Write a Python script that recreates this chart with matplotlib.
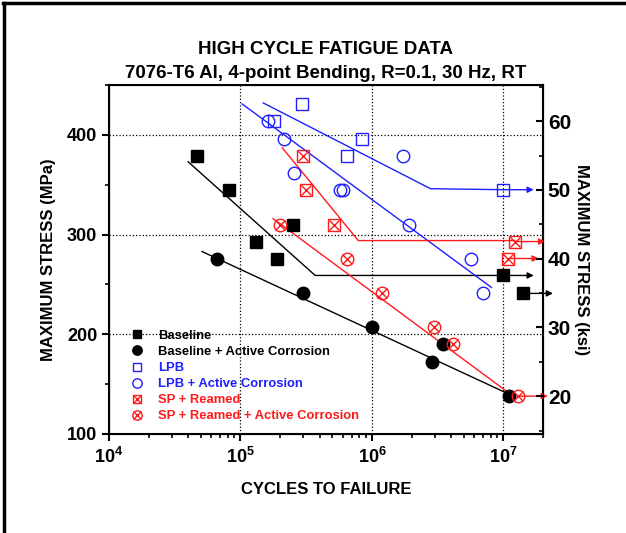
import matplotlib
matplotlib.use('Agg')
import matplotlib.pyplot as plt
from matplotlib.lines import Line2D
from matplotlib.ticker import FixedLocator, MultipleLocator, LogLocator, NullFormatter

plt.rcParams['font.family'] = 'Liberation Sans'
plt.rcParams['font.weight'] = 'bold'
plt.rcParams['mathtext.fontset'] = 'custom'
plt.rcParams['mathtext.rm'] = 'Liberation Sans:bold'
plt.rcParams['mathtext.default'] = 'rm'

# ---- data (cycles, MPa) ----
base_n = [4.68e4, 8.2e4, 1.32e5, 1.90e5, 2.52e5]
base_s = [379, 345, 293, 276, 310]
base_run_n = [1.0e7, 1.40e7]
base_run_s = [259, 241]

basec_n = [6.65e4, 3.0e5, 1.0e6, 2.88e6, 3.5e6, 1.11e7]
basec_s = [276, 241, 207, 172, 190, 138]

lpb_n = [1.81e5, 2.95e5, 8.45e5, 6.5e5]
lpb_s = [414, 431, 396, 379]
lpb_run_n = [1.0e7]
lpb_run_s = [345]

lpbc_n = [1.63e5, 2.15e5, 2.57e5, 5.74e5, 6.05e5, 1.71e6, 1.93e6, 5.71e6, 7.05e6]
lpbc_s = [414, 396, 362, 345, 345, 379, 310, 276, 241]

sp_n = [3.0e5, 3.17e5, 5.17e5]
sp_s = [379, 345, 310]
sp_run_n = [1.22e7, 1.09e7]
sp_run_s = [293, 276]

spc_n = [2.0e5, 6.5e5, 1.2e6, 2.99e6, 4.17e6]
spc_s = [310, 276, 241, 207, 190]
spc_run_n = [1.28e7]
spc_run_s = [138]

# trend lines
base_fit_n = [4.0e4, 3.7e5, 1.0e7]
base_fit_s = [373, 259, 259]
basec_fit_n = [5.1e4, 1.1e7]
basec_fit_s = [283, 140]
lpb_fit_n = [1.49e5, 2.79e6, 1.0e7]
lpb_fit_s = [432, 346, 345]
lpbc_fit_n = [1.03e5, 8.1e6]
lpbc_fit_s = [431, 247]
sp_fit_n = [2.08e5, 7.87e5, 1.22e7]
sp_fit_s = [387, 294, 294]
spc_fit_n = [1.77e5, 1.13e7]
spc_fit_s = [316, 140]

BLUE = '#1f1fff'
RED = '#ff1a1a'

fig = plt.figure(figsize=(6.26, 5.33), dpi=100)
ax = fig.add_axes([109 / 626, 1 - 434 / 533, 434 / 626, 349 / 533])

# trend lines
ax.plot(base_fit_n, base_fit_s, color='black', lw=1)
ax.plot(basec_fit_n, basec_fit_s, color='black', lw=1)
ax.plot(lpb_fit_n, lpb_fit_s, color=BLUE, lw=1)
ax.plot(lpbc_fit_n, lpbc_fit_s, color=BLUE, lw=1)
ax.plot(sp_fit_n, sp_fit_s, color=RED, lw=1)
ax.plot(spc_fit_n, spc_fit_s, color=RED, lw=1)

# runout arrows
def runout(ns, ss, color, factor=1.7):
    for n, s in zip(ns, ss):
        ax.annotate('', xy=(n * factor, s), xytext=(n, s), annotation_clip=False,
                    arrowprops=dict(arrowstyle='-|>', color=color, lw=1,
                                    mutation_scale=9, shrinkA=0, shrinkB=0))

runout(base_run_n, base_run_s, 'black')
runout(lpb_run_n, lpb_run_s, BLUE)
runout(sp_run_n, sp_run_s, RED)
runout(spc_run_n, spc_run_s, RED)

ms = 8
h1, = ax.plot(base_n + base_run_n, base_s + base_run_s, 's', color='black', ms=ms, ls='none')
h2, = ax.plot(basec_n, basec_s, 'o', color='black', ms=ms + 1, ls='none')
h3, = ax.plot(lpb_n + lpb_run_n, lpb_s + lpb_run_s, 's', mfc='none', mec=BLUE, ms=ms, mew=1, ls='none')
h4, = ax.plot(lpbc_n, lpbc_s, 'o', mfc='none', mec=BLUE, ms=ms + 1, mew=1, ls='none')
h5a, = ax.plot(sp_n + sp_run_n, sp_s + sp_run_s, 's', mfc='none', mec=RED, ms=ms, mew=1, ls='none')
h5b, = ax.plot(sp_n + sp_run_n, sp_s + sp_run_s, 'x', color=RED, ms=ms - 1, mew=1, ls='none')
h6a, = ax.plot(spc_n + spc_run_n, spc_s + spc_run_s, 'o', mfc='none', mec=RED, ms=ms + 1, mew=1, ls='none')
h6b, = ax.plot(spc_n + spc_run_n, spc_s + spc_run_s, 'x', color=RED, ms=ms - 1, mew=1, ls='none')

ax.set_xscale('log')
ax.set_xlim(1e4, 2e7)
ax.set_ylim(100, 450)
ax.xaxis.set_major_locator(LogLocator(base=10, numticks=10))
ax.xaxis.set_minor_locator(LogLocator(base=10, subs=range(2, 10), numticks=20))
ax.xaxis.set_minor_formatter(NullFormatter())
ax.yaxis.set_major_locator(FixedLocator([100, 200, 300, 400]))
ax.yaxis.set_minor_locator(MultipleLocator(50))
ax.grid(True, which='major', ls=':', color='black', lw=0.9)

for sp in ax.spines.values():
    sp.set_linewidth(1.5)
ax.tick_params(which='major', direction='out', length=5, width=1.5, labelsize=13)
ax.tick_params(which='minor', direction='out', length=3, width=1.2)
ax.tick_params(axis='x', pad=4)

ax.set_xlabel('CYCLES TO FAILURE', fontsize=12, fontweight='bold', labelpad=11)
ax.set_ylabel('MAXIMUM STRESS (MPa)', fontsize=12, fontweight='bold', labelpad=8)

ax2 = ax.twinx()
ax2.set_ylim(100 / 6.895, 450 / 6.895)
ax2.yaxis.set_major_locator(MultipleLocator(10))
ax2.yaxis.set_minor_locator(MultipleLocator(5))
ax2.tick_params(which='major', direction='in', length=5, width=1.5, labelsize=15)
ax2.tick_params(which='minor', direction='in', length=3, width=1.2)
ax2.set_ylabel('MAXIMUM STRESS (ksi)', fontsize=12, fontweight='bold', rotation=270, labelpad=13)

ax.set_title('HIGH CYCLE FATIGUE DATA\n7076-T6 Al, 4-point Bending, R=0.1, 30 Hz, RT',
             fontsize=13.5, fontweight='bold', pad=5, linespacing=1.55)

labels = ['Baseline', 'Baseline + Active Corrosion', 'LPB', 'LPB + Active Corrosion',
          'SP + Reamed', 'SP + Reamed + Active Corrosion']
leg = ax.legend([h1, h2, h3, h4, (h5a, h5b), (h6a, h6b)], labels,
                loc='lower left', bbox_to_anchor=(0.02, 0.0), frameon=False,
                prop={'weight': 'bold', 'size': 9.4}, handlelength=1.2,
                handletextpad=1.0, labelspacing=0.3, markerscale=0.75,
                labelcolor=['black', 'black', BLUE, BLUE, RED, RED])

# figure frame (left and top edges visible)
fig.add_artist(Line2D([0.007, 0.007], [0, 0.995], transform=fig.transFigure, color='black', lw=2.5))
fig.add_artist(Line2D([0.005, 1], [0.995, 0.995], transform=fig.transFigure, color='black', lw=2.5))

fig.savefig('out.png', dpi=100)
